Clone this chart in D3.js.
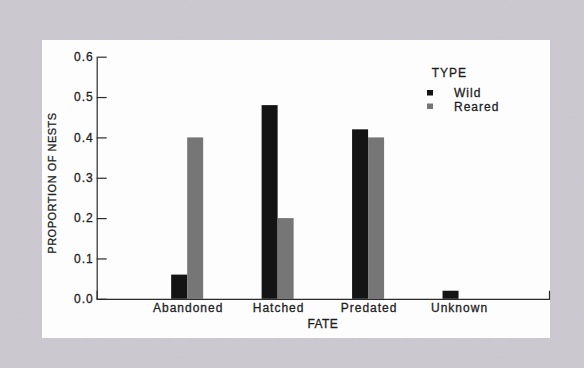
<!DOCTYPE html>
<html>
<head>
<meta charset="utf-8">
<script src="https://cdn.jsdelivr.net/npm/d3@7"></script>
<style>
  body { margin: 0; background: #c7c3cb; }
  svg { display: block; }
  text { font-family: "Liberation Sans", Arial, sans-serif; fill: #1e1e1e; stroke: #1e1e1e; stroke-width: 0.3px; }
  .axis path, .axis line { stroke: #2a2a2a; stroke-width: 1.2; }
  .axis text { font-size: 12px; letter-spacing: 1px; fill: #1e1e1e; }
</style>
</head>
<body>
<script>
const fates = ["Abandoned", "Hatched", "Predated", "Unknown"];
const types = ["Wild", "Reared"];
const wild = [0.06, 0.48, 0.42, 0.02];
const reared = [0.40, 0.20, 0.40, 0.00];
const yTicks = [0.0, 0.1, 0.2, 0.3, 0.4, 0.5, 0.6];

const colors = { Wild: "#141414", Reared: "#767676" };

const W = 584, H = 368;
const plot = { left: 96.7, right: 549, top: 56.7, bottom: 298.8 };

const rows = [];
fates.forEach((f, i) => {
  rows.push({ fate: f, type: "Wild", value: wild[i] });
  rows.push({ fate: f, type: "Reared", value: reared[i] });
});

const svg = d3.select("body")
  .append("svg")
  .attr("width", W)
  .attr("height", H);

// scanned paper texture
const defs = svg.append("defs");
const filt = defs.append("filter").attr("id", "grain");
filt.append("feTurbulence")
  .attr("type", "fractalNoise")
  .attr("baseFrequency", 0.8)
  .attr("numOctaves", 2)
  .attr("seed", 3);
filt.append("feColorMatrix")
  .attr("type", "matrix")
  .attr("values", "0 0 0 0 0.62  0 0 0 0 0.60  0 0 0 0 0.66  0 0 0 0.6 -0.1");

svg.append("rect")
  .attr("width", W).attr("height", H)
  .attr("fill", "#cbc7cf");
svg.append("rect")
  .attr("width", W).attr("height", H)
  .attr("filter", "url(#grain)");

// white panel
svg.append("rect")
  .attr("x", 42).attr("y", 40)
  .attr("width", 508).attr("height", 298)
  .attr("fill", "#fdfdfd");

const x = d3.scalePoint()
  .domain(fates)
  .range([plot.left, plot.right])
  .padding(1);

const xInner = d3.scaleBand()
  .domain(types)
  .range([-16, 16]);

const y = d3.scaleLinear()
  .domain([0, 0.6])
  .range([plot.bottom, plot.top]);

// bars
svg.append("g")
  .selectAll("rect")
  .data(rows.filter(d => d.value > 0))
  .enter()
  .append("rect")
  .attr("x", d => x(d.fate) + xInner(d.type))
  .attr("y", d => y(d.value))
  .attr("width", xInner.bandwidth())
  .attr("height", d => y(0) - y(d.value))
  .attr("fill", d => colors[d.type]);

// y axis, ticks pointing inwards
const yAxis = d3.axisLeft(y)
  .tickValues(yTicks)
  .tickFormat(d3.format(".1f"))
  .tickSize(-10)
  .tickSizeOuter(0)
  .tickPadding(3);

svg.append("g")
  .attr("class", "axis")
  .attr("transform", `translate(${plot.left},0)`)
  .call(yAxis);

// x axis, no category ticks, small up-tick at the right end
const xAxis = d3.axisBottom(x)
  .tickSize(0)
  .tickSizeOuter(-8)
  .tickPadding(5);

svg.append("g")
  .attr("class", "axis")
  .attr("transform", `translate(0,${plot.bottom})`)
  .call(xAxis)
  .call(g => g.selectAll(".tick text").attr("dx", "0.5px"));

svg.append("text")
  .attr("x", (plot.left + plot.right) / 2)
  .attr("y", 327.5)
  .attr("text-anchor", "middle")
  .style("font-size", "12px")
  .style("letter-spacing", "0.4px")
  .text("FATE");

svg.append("text")
  .attr("transform", "translate(56,183) rotate(-90)")
  .attr("text-anchor", "middle")
  .style("font-size", "11px")
  .style("letter-spacing", "0.5px")
  .text("PROPORTION OF NESTS");

// legend
const legend = svg.append("g")
  .attr("transform", "translate(427,0)");

legend.append("text")
  .attr("x", 4.7)
  .attr("y", 76.7)
  .style("font-size", "12px")
  .style("letter-spacing", "1px")
  .text("TYPE");

const item = legend.selectAll(".item")
  .data(types)
  .enter()
  .append("g")
  .attr("class", "item")
  .attr("transform", (d, i) => `translate(0,${97 + i * 13.5})`);

item.append("rect")
  .attr("x", 0)
  .attr("y", -7)
  .attr("width", 6)
  .attr("height", 5.5)
  .attr("fill", d => colors[d]);

item.append("text")
  .attr("x", 27)
  .attr("y", 0)
  .style("font-size", "12px")
  .style("letter-spacing", "1px")
  .text(d => d);
</script>
</body>
</html>
